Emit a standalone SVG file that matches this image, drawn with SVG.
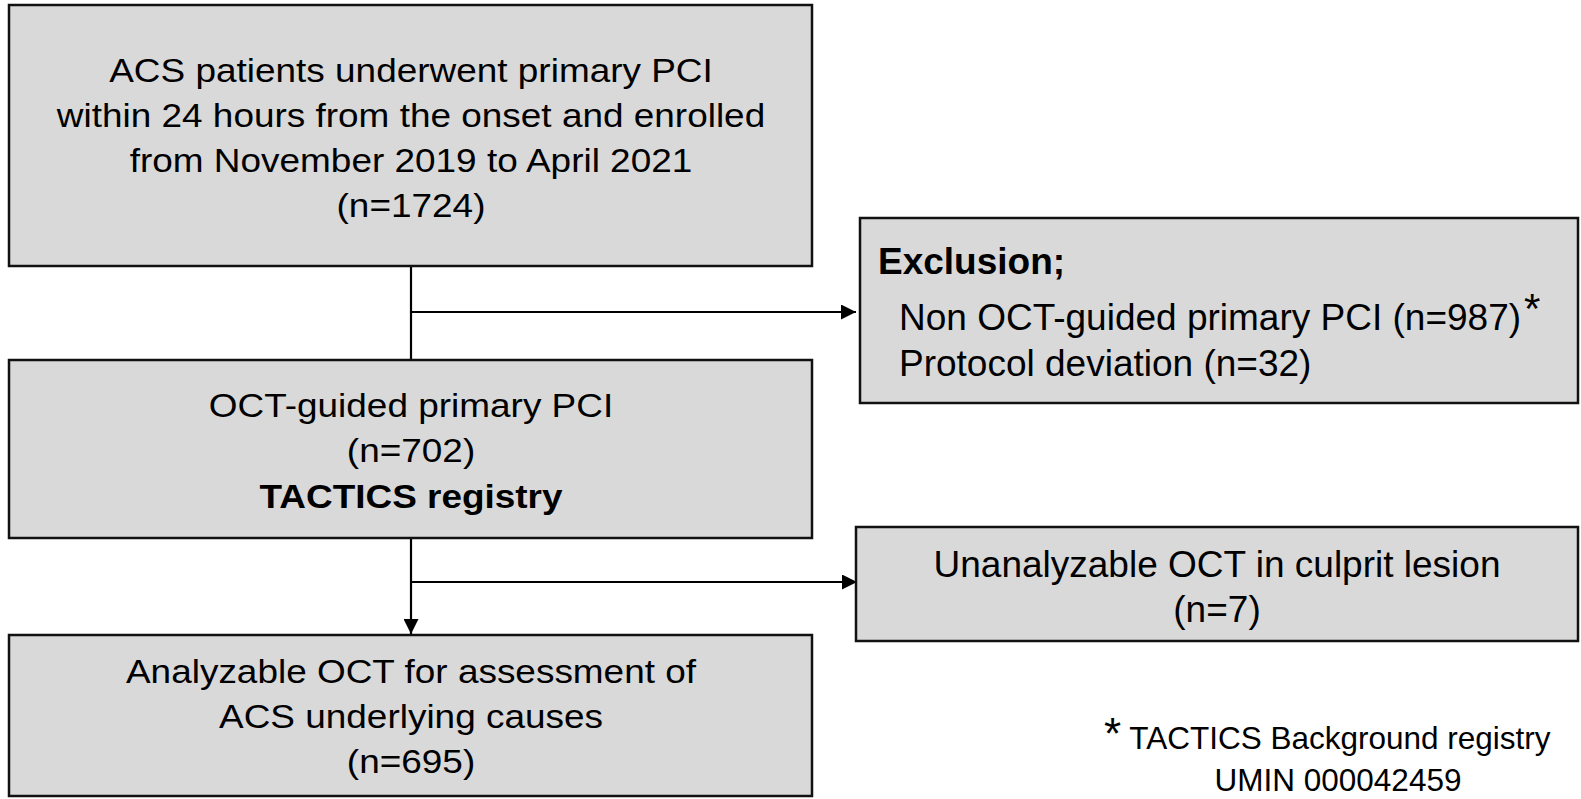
<svg xmlns="http://www.w3.org/2000/svg" width="1581" height="799" viewBox="0 0 1581 799">
<style>
.box{fill:#d9d9d9;stroke:#111;stroke-width:2.5}
.t{font-family:"Liberation Sans",Arial,sans-serif;fill:#000}
.l{font-size:33px;text-anchor:middle}
.r{font-size:37px}
.b{font-weight:bold}
.c{fill:none;stroke:#000;stroke-width:2.2}
</style>
<defs>
<marker id="ah" viewBox="0 0 10 10" refX="10" refY="5" markerWidth="15" markerHeight="15" markerUnits="userSpaceOnUse" orient="auto">
<path d="M0,0 L10,5 L0,10 z" fill="#000"/>
</marker>
</defs>
<rect width="1581" height="799" fill="#fff"/>
<g id="connectors">
<line class="c" x1="411" y1="266" x2="411" y2="360"/>
<line class="c" x1="411" y1="312" x2="856" y2="312" marker-end="url(#ah)"/>
<line class="c" x1="411" y1="538" x2="411" y2="634" marker-end="url(#ah)"/>
<line class="c" x1="411" y1="582" x2="857" y2="582" marker-end="url(#ah)"/>
</g>
<g id="node-enrolled">
<rect class="box" x="9" y="5" width="803" height="261"/>
<g transform="translate(411,0) scale(1.12,1)">
<text class="t l" x="0" y="82">ACS patients underwent primary PCI</text>
<text class="t l" x="0" y="127">within 24 hours from the onset and enrolled</text>
<text class="t l" x="0" y="172">from November 2019 to April 2021</text>
<text class="t l" x="0" y="217">(n=1724)</text>
</g>
</g>
<g id="node-oct">
<rect class="box" x="9" y="360" width="803" height="178"/>
<g transform="translate(411,0) scale(1.12,1)">
<text class="t l" x="0" y="417">OCT-guided primary PCI</text>
<text class="t l" x="0" y="462">(n=702)</text>
<text class="t l b" x="0" y="508">TACTICS registry</text>
</g>
</g>
<g id="node-analyzable">
<rect class="box" x="9" y="635" width="803" height="161"/>
<g transform="translate(411,0) scale(1.12,1)">
<text class="t l" x="0" y="683">Analyzable OCT for assessment of</text>
<text class="t l" x="0" y="728">ACS underlying causes</text>
<text class="t l" x="0" y="773">(n=695)</text>
</g>
</g>
<g id="node-exclusion">
<rect class="box" x="860" y="218" width="718" height="185"/>
<text class="t r b" x="878" y="274">Exclusion;</text>
<text class="t r" x="899" y="330">Non OCT-guided primary PCI (n=987)<tspan font-size="42" dx="3" dy="-7">*</tspan></text>
<text class="t r" x="899" y="376">Protocol deviation (n=32)</text>
</g>
<g id="node-unanalyzable">
<rect class="box" x="856" y="527" width="722" height="114"/>
<text class="t r" x="1217" y="577" text-anchor="middle">Unanalyzable OCT in culprit lesion</text>
<text class="t r" x="1217" y="622" text-anchor="middle">(n=7)</text>
</g>
<g id="footnote">
<text class="t" x="1104" y="749" font-size="31.5"><tspan font-size="44">*</tspan> TACTICS Background registry</text>
<text class="t" x="1338" y="791" font-size="31.5" text-anchor="middle">UMIN 000042459</text>
</g>
</svg>
